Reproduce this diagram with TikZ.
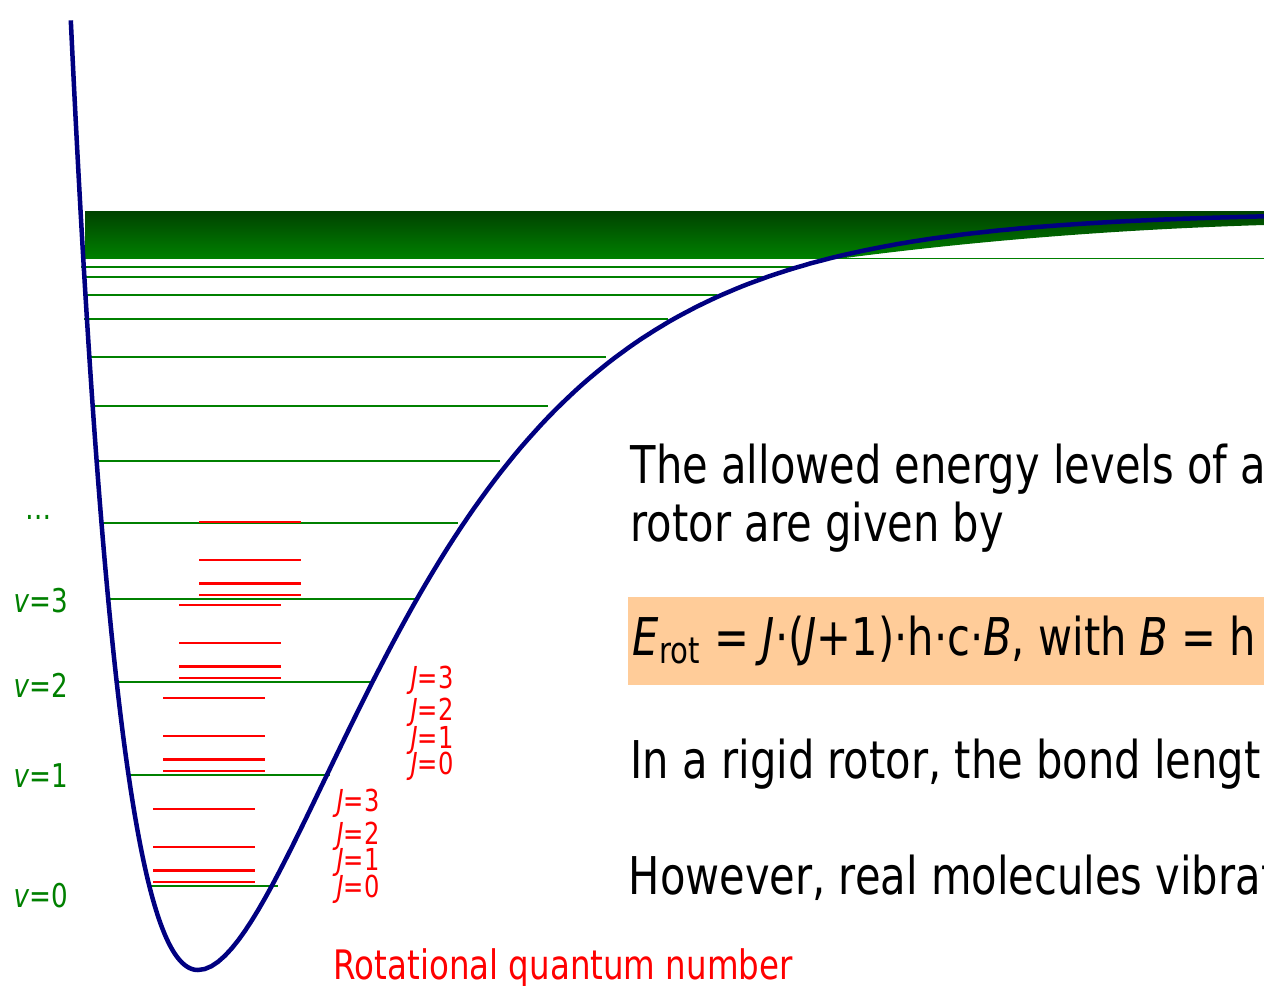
\documentclass[tikz,border=0pt]{standalone}
\usepackage{fontspec}
\setmainfont{DejaVu Sans}[FakeStretch=0.80]
\definecolor{morseblue}{RGB}{0,0,128}
\definecolor{vibgreen}{RGB}{0,128,0}
\definecolor{darkgreen}{RGB}{0,66,0}
\definecolor{eqorange}{RGB}{255,204,153}
\tikzset{
  vline/.style={vibgreen,line width=.02cm},
  jline/.style={red,line width=.022cm},
  vlab/.style={text=vibgreen,font=\fontsize{9.3}{11}\selectfont,anchor=west,inner sep=0pt},
  jlab/.style={text=red,font=\fontsize{8.6}{10}\selectfont,anchor=west,inner sep=0pt},
  bodytext/.style={font=\fontsize{14.8}{17.6}\selectfont,anchor=base west,inner sep=0pt},
}
\begin{document}
\begin{tikzpicture}[x=.01cm,y=-.01cm]
  \def\De{758}\def\xm{198}\def\ym{970}
  \useasboundingbox (0,0) rectangle (1264,985);
  \clip (0,0) rectangle (1264,985);
  \shade[top color=darkgreen,bottom color=vibgreen] (85,211) -- (1264,211) -- (1264,225)
        .. controls (1100,230) and (960,243) .. (845,258) -- (85,258) -- cycle;
  \draw[vibgreen,line width=.01cm] (81,258) -- (1264,258);
  \foreach \yy/\xl/\xr in {886/147/278,775/128/330,682/115/374,599/106/415,523/100/458,
                           461/96/500,406/92/548,357/88/606,319/84/668,295/84/717,
                           277/86/764,267/81/794}
    \draw[vline] (\xl,\yy) -- (\xr,\yy);
  \foreach \yv/\xl in {886/153,775/163,682/179,599/199}
    \foreach \dj in {4,15.5,39,77}
      \draw[jline] (\xl,\yv-\dj) -- ++(102,0);
  \draw[morseblue,line width=.045cm,line join=round]
    plot[domain=-127.2:0,samples=80] ({\xm+\x},{\ym-\De*(1-exp(-0.0059*(\x)))^2})
    -- plot[domain=0:1070,samples=160] ({\xm+\x},{\ym-\De*(1-exp(-0.0055*(\x)))^2});
  \foreach \n/\yy in {0/896,1/776,2/685,3/601}
    \node[vlab] (v\n) at (13,\yy) {\textit{v}=\n};
  \node[text=vibgreen,font=\fontsize{9.3}{11}\selectfont,inner sep=0pt] (vdots) at (39,517) {…};
  \foreach \n/\yy in {3/803,2/836,1/862,0/889}
    \node[jlab] (ja\n) at (336,\yy) {\textit{J}=\n};
  \foreach \n/\yy in {3/680,2/712,1/740,0/766}
    \node[jlab] (jb\n) at (410,\yy) {\textit{J}=\n};
  \node[bodytext,text=red,font=\fontsize{11.55}{13.8}\selectfont] (rotq) at (333,979) {Rotational quantum number};
  \fill[eqorange] (628,597) rectangle (1264,685);
  \node[bodytext] (txta) at (630,483) {The allowed energy levels of a};
  \node[bodytext] (txtb) at (630,541) {rotor are given by};
  \node[bodytext] (eqn) at (632,655) {\textit{E}\textsubscript{rot} = \textit{J}·(\textit{J}+1)·h·c·\textit{B}, with \textit{B} = h};
  \node[bodytext] (txtc) at (630,778) {In a rigid rotor, the bond lengt};
  \node[bodytext] (txtd) at (628,894) {However, real molecules vibrat};
\end{tikzpicture}
\end{document}
